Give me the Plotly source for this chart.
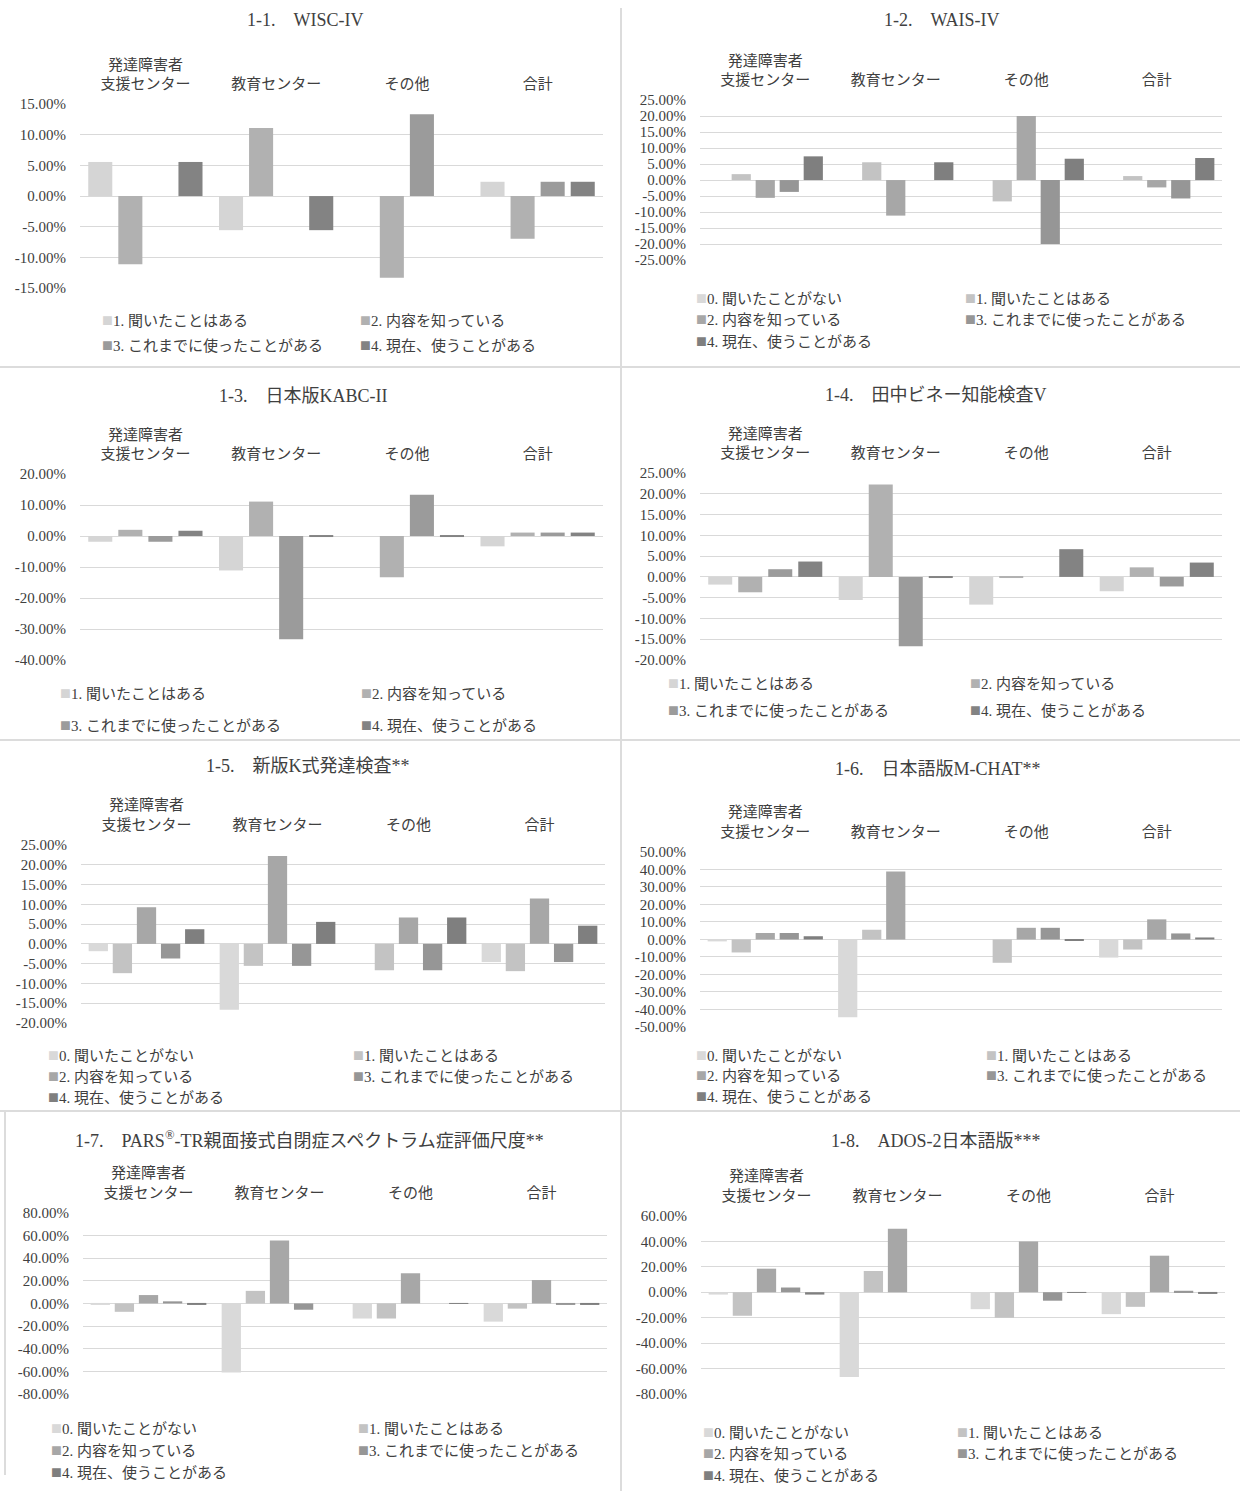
import plotly.graph_objects as go

W, H = 1240, 1499
FONT = "Liberation Serif, Noto Sans CJK JP, serif"
TEXT = "#404040"
GRID = "#d9d9d9"

# Category axis (shown above each plot) and answer categories
categories = ["発達障害者<br>支援センター", "教育センター", "その他", "合計"]
series_4 = ["1. 聞いたことはある", "2. 内容を知っている",
            "3. これまでに使ったことがある", "4. 現在、使うことがある"]
series_5 = ["0. 聞いたことがない"] + series_4
colors_4 = ["#d5d5d5", "#b1b1b1", "#9b9b9b", "#838383"]
colors_5 = ["#d9d9d9", "#c3c3c3", "#a7a7a7", "#969696", "#7f7f7f"]

titles = [
    "1-1.　WISC-IV",
    "1-2.　WAIS-IV",
    "1-3.　日本版KABC-II",
    "1-4.　田中ビネー知能検査V",
    "1-5.　新版K式発達検査**",
    "1-6.　日本語版M-CHAT**",
    "1-7.　PARS<sup>®</sup>-TR親面接式自閉症スペクトラム症評価尺度**",
    "1-8.　ADOS-2日本語版***",
]

# Values in percent; one row per answer category, columns follow `categories`
wisc_iv = [
    [5.56, -5.56, 0.0, 2.33],
    [-11.11, 11.11, -13.33, -6.98],
    [0.0, 0.0, 13.33, 2.33],
    [5.56, -5.56, 0.0, 2.33],
]
wais_iv = [
    [0.0, 0.0, 0.0, 0.0],
    [1.85, 5.56, -6.67, 1.25],
    [-5.56, -11.11, 20.0, -2.30],
    [-3.70, 0.0, -20.0, -5.75],
    [7.41, 5.56, 6.67, 6.90],
]
kabc_ii = [
    [-1.85, -11.11, 0.0, -3.33],
    [2.0, 11.11, -13.33, 1.11],
    [-1.85, -33.33, 13.33, 1.11],
    [1.7, -0.2, -0.3, 1.11],
]
tanaka_binet = [
    [-1.85, -5.56, -6.67, -3.45],
    [-3.70, 22.22, -0.2, 2.30],
    [1.85, -16.67, 0.0, -2.30],
    [3.70, -0.2, 6.67, 3.45],
]
k_shiki = [
    [-1.85, -16.67, 0.0, -4.60],
    [-7.41, -5.56, -6.67, -6.90],
    [9.26, 22.22, 6.67, 11.49],
    [-3.70, -5.56, -6.67, -4.60],
    [3.70, 5.56, 6.67, 4.60],
]
m_chat = [
    [-1.1, -44.44, 0.0, -10.34],
    [-7.41, 5.56, -13.33, -5.75],
    [3.70, 38.89, 6.67, 11.49],
    [3.70, 0.0, 6.67, 3.45],
    [1.85, 0.0, -0.3, 1.15],
]
pars_tr = [
    [-0.93, -61.11, -13.33, -16.09],
    [-7.41, 11.11, -13.33, -4.60],
    [7.41, 55.56, 26.67, 20.69],
    [1.85, -5.56, 0.0, -0.5],
    [-0.92, 0.0, 0.3, -0.5],
]
ados_2 = [
    [-1.85, -66.67, -13.33, -17.24],
    [-18.52, 16.67, -20.0, -11.49],
    [18.52, 50.0, 40.0, 28.74],
    [3.70, 0.0, -6.67, 1.15],
    [-1.85, 0.0, -0.5, -1.15],
]

# Y axis extents (max, min, step) in percent
y_scales = [
    (15, -15, 5), (25, -25, 5), (20, -40, 10), (25, -20, 5),
    (25, -20, 5), (50, -50, 10), (80, -80, 20), (60, -80, 20),
]

panels = [
    # data, series names, colours, plot box (x0, x1, top, bottom), title pos, legend
    dict(data=wisc_iv, names=series_4, colors=colors_4, box=(80, 603, 104, 288),
         title=(305, 20), leg_x=(100, 358), leg_y=(320, 345)),
    dict(data=wais_iv, names=series_5, colors=colors_5, box=(700, 1222, 100, 260),
         title=(941, 20), leg_x=(694, 963), leg_y=(298, 319, 341)),
    dict(data=kabc_ii, names=series_4, colors=colors_4, box=(80, 603, 474, 660),
         title=(303, 396), leg_x=(58, 359), leg_y=(693, 725)),
    dict(data=tanaka_binet, names=series_4, colors=colors_4, box=(700, 1222, 473, 660),
         title=(936, 395), leg_x=(666, 968), leg_y=(683, 710)),
    dict(data=k_shiki, names=series_5, colors=colors_5, box=(81, 605, 845, 1023),
         title=(308, 766), leg_x=(46, 351), leg_y=(1055, 1076, 1097)),
    dict(data=m_chat, names=series_5, colors=colors_5, box=(700, 1222, 852, 1027),
         title=(938, 769), leg_x=(694, 984), leg_y=(1055, 1075, 1096)),
    dict(data=pars_tr, names=series_5, colors=colors_5, box=(83, 607, 1213, 1394),
         title=(309, 1140), leg_x=(49, 356), leg_y=(1428, 1450, 1472)),
    dict(data=ados_2, names=series_5, colors=colors_5, box=(701, 1225, 1216, 1394),
         title=(936, 1141), leg_x=(701, 955), leg_y=(1432, 1453, 1475)),
]

# the page body keeps its default 8px margin; vertical positions are
# expressed in page pixels and converted to paper fractions with it
BODY_MARGIN = 8
PAGE_H = H + 2 * BODY_MARGIN


def px_x(v):
    return v / W


def px_y(v):
    return 1 - (v * PAGE_H / H - BODY_MARGIN) / H


fig = go.Figure()
layout = {}
annotations = []

for i, (p, title, (ymax, ymin, step)) in enumerate(zip(panels, titles, y_scales), start=1):
    xa, ya = f"x{i}", f"y{i}"
    for name, color, vals in zip(p["names"], p["colors"], p["data"]):
        fig.add_trace(go.Bar(
            x=categories, y=vals, name=name, marker=dict(color=color, line=dict(width=0)),
            xaxis=xa, yaxis=ya, showlegend=False,
            hovertemplate="%{x}<br>" + name + ": %{y:.2f}%<extra></extra>",
        ))

    x0, x1, top, bottom = p["box"]
    ticks = list(range(ymin, ymax + 1, step))
    layout[f"xaxis{i}"] = dict(
        domain=[px_x(x0), px_x(x1)], anchor=ya, side="top", type="category",
        showgrid=False, showline=False, zeroline=False, ticks="",
        tickfont=dict(family=FONT, size=15, color=TEXT), ticklabelstandoff=11,
        fixedrange=True,
    )
    layout[f"yaxis{i}"] = dict(
        domain=[px_y(bottom), px_y(top)], anchor=xa, range=[ymin, ymax],
        tickvals=ticks, ticktext=[f"{t:.2f}%" for t in ticks],
        showgrid=True, gridcolor=GRID, gridwidth=1,
        zeroline=True, zerolinecolor=GRID, zerolinewidth=1,
        showline=False, ticks="", ticklabelstandoff=13,
        tickfont=dict(family=FONT, size=15, color=TEXT), fixedrange=True,
    )

    tx, ty = p["title"]
    annotations.append(dict(
        text=title, x=px_x(tx), y=px_y(ty), xref="paper", yref="paper",
        xanchor="center", yanchor="middle", showarrow=False,
        font=dict(family=FONT, size=18, color=TEXT),
    ))

    # two-column legend rows under each plot
    for k, (name, color) in enumerate(zip(p["names"], p["colors"])):
        col, row = k % 2, k // 2
        annotations.append(dict(
            text=f"<span style='color:{color};font-size:18px'>■</span>{name}",
            x=px_x(p["leg_x"][col]), y=px_y(p["leg_y"][row]),
            xref="paper", yref="paper", xanchor="left", yanchor="middle",
            showarrow=False, font=dict(family=FONT, size=15, color=TEXT),
        ))

# panel separators
line_style = dict(color="#dcdcdc", width=2)
shapes = [
    dict(type="line", xref="paper", yref="paper", x0=px_x(621), x1=px_x(621),
         y0=0, y1=1, line=line_style),
]
for yy in (367, 740, 1111):
    shapes.append(dict(type="line", xref="paper", yref="paper", x0=0, x1=1,
                       y0=px_y(yy), y1=px_y(yy), line=line_style))
shapes.append(dict(type="line", xref="paper", yref="paper", x0=px_x(5), x1=px_x(5),
                   y0=px_y(1111), y1=px_y(1475), line=line_style))

fig.update_layout(
    width=W, height=H, margin=dict(l=0, r=0, t=0, b=0),
    paper_bgcolor="white", plot_bgcolor="white",
    barmode="group", bargap=0.08, bargroupgap=0.2,
    annotations=annotations, shapes=shapes,
    font=dict(family=FONT, color=TEXT),
    **layout,
)

fig.write_html("out.html")
